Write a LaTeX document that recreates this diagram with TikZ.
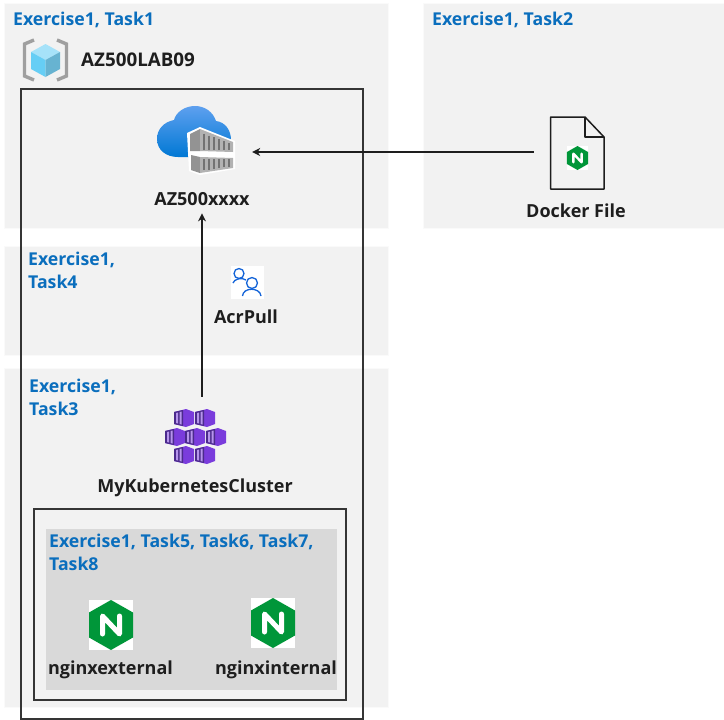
\documentclass[tikz,border=0pt]{standalone}
\usepackage{fontspec}
\setmainfont{Open Sans}
\usetikzlibrary{arrows.meta, positioning}
\definecolor{panelgray}{HTML}{F2F2F2}
\definecolor{innergray}{HTML}{D9D9D9}
\definecolor{taskblue}{HTML}{0A6EBD}
\definecolor{inkdark}{HTML}{1E1E1E}
\definecolor{nginxgreen}{HTML}{009639}
\definecolor{kubepurple}{HTML}{7A3CDC}
\definecolor{kubedark}{HTML}{4B2A8C}
\definecolor{usersblue}{HTML}{1464D8}
\definecolor{cloudtop}{HTML}{5EA0EF}
\definecolor{cloudlow}{HTML}{0078D4}
\tikzset{
  panel/.style={fill=panelgray,draw=white!60!panelgray,line width=1pt},
  framebox/.style={draw=inkdark!90,line width=1.3pt},
  flow/.style={draw=inkdark,line width=1.2pt,-{Stealth[length=8pt,width=8pt]}},
  tasklabel/.style={anchor=base west,inner sep=0pt,text=taskblue,align=left,font=\bfseries\fontsize{17.7}{23}\selectfont},
  itemlabel/.style={anchor=base,inner sep=0pt,text=inkdark,font=\bfseries\fontsize{18}{20}\selectfont},
  iconbox/.style={inner sep=0pt,minimum width=#1},
  whitebox/.style={fill=white,inner sep=0pt},
  kubecube/.pic={
    \fill[kubepurple] (-10,-6) -- (2,-9) -- (10,-6) -- (10,6) -- (2,9) -- (-10,6) -- cycle;
    \fill[kubedark] (-10,-6) -- (-1,-8) -- (-1,8) -- (-10,6) -- cycle;
    \fill[kubepurple!55!white] (-8,-5) -- (-6,-5.5) -- (-6,5.5) -- (-8,5) -- cycle;
    \fill[kubepurple!55!white] (-4.5,-6) -- (-2.5,-6.5) -- (-2.5,6.5) -- (-4.5,6) -- cycle;
  }
}
% hexagon with the N, #1 x, #2 y, #3 factor
\newcommand{\nginxmark}[3]{
  \begin{scope}[shift={(#1,#2)},scale=#3]
    \fill[nginxgreen] (0,-25) -- (22,-12.5) -- (22,12.5) -- (0,25) -- (-22,12.5) -- (-22,-12.5) -- cycle;
    \draw[white,line width=#3*5pt,line cap=round,line join=round] (-8.5,9) -- (-8.5,-9) -- (8.5,9) -- (8.5,-9);
  \end{scope}
}
\begin{document}
\begin{tikzpicture}[x=1pt,y=-1pt]
\useasboundingbox (0,0) rectangle (724,720);
% panels
\path[panel] (4,3) rectangle (388,228);
\path[panel] (423,3) rectangle (724,228);
\path[panel] (4,246) rectangle (388,355);
\path[panel] (4,368) rectangle (388,707);
\path[fill=innergray] (46,529) rectangle (337,690);
\path[framebox] (21,89) rectangle (363,719);
\path[framebox] (34,509) rectangle (346,700);
% task labels
\node[tasklabel] (taskone) at (13,25) {Exercise1, Task1};
\node[tasklabel] (tasktwo) at (432,25) {Exercise1, Task2};
\node[tasklabel,anchor=north west] (taskfour) at (28,252) {Exercise1,\\Task4};
\node[tasklabel,anchor=north west] (taskthree) at (29,379) {Exercise1,\\Task3};
\node[tasklabel,anchor=north west] (taskfive) at (49,534) {Exercise1, Task5, Task6, Task7,\\Task8};
% resource group
\node[iconbox=45pt,minimum height=43pt] (resgroup) at (45.5,60) {};
\draw[gray!75,line width=3.4pt] (34,40) -- (24.5,44) -- (24.5,76) -- (34,80);
\draw[gray!75,line width=3.4pt] (57,40) -- (66.5,44) -- (66.5,76) -- (57,80);
\fill[cyan!35!white] (45.5,44) -- (60,52) -- (45.5,60) -- (31,52) -- cycle;
\fill[cyan!60!white] (31,52) -- (45.5,60) -- (45.5,77) -- (31,69) -- cycle;
\fill[cyan!75!black!70!white] (60,52) -- (45.5,60) -- (45.5,77) -- (60,69) -- cycle;
\node[itemlabel,anchor=base west,font=\bfseries\fontsize{18.8}{20}\selectfont] (resgrouplabel) at (81,66) {AZ500LAB09};
% container registry
\node[iconbox=114pt,minimum height=60pt] (registry) at (195,145) {};
\shade[top color=cloudtop,bottom color=cloudlow] (178,157) .. controls (166,157) and (157,150) .. (157,139)
  .. controls (157,129) and (164,122) .. (174,120) .. controls (176,112) and (185,106) .. (195,106)
  .. controls (205,106) and (213,112) .. (216,121) .. controls (225,122) and (231,130) .. (231,140) -- (231,157) -- cycle;
\fill[white] (187,133) -- (200,127) -- (235,141) -- (235,169) -- (200,175) -- (189,171) -- cycle;
\fill[gray!85] (190,134) -- (200,129) -- (200,151) -- (190,151) -- cycle;
\fill[gray!60] (200,129) -- (233,142) -- (233,152) -- (200,151) -- cycle;
\fill[gray!85] (191,155) -- (200,157) -- (200,173) -- (191,170) -- cycle;
\fill[gray!60] (200,157) -- (233,158) -- (233,168) -- (200,173) -- cycle;
\foreach \sx in {204,209,214,219,224,229} {
  \draw[gray!90!black,line width=1.2pt] (\sx,{129+(\sx-200)*0.39+3}) -- (\sx,150);
  \draw[gray!90!black,line width=1.2pt] (\sx,159) -- (\sx,{173-(\sx-200)*0.15-2});
}
\node[itemlabel] (registrylabel) at (202,205) {AZ500xxxx};
% docker file
\node[iconbox=88pt,minimum height=72pt] (dockerfile) at (578,152) {};
\draw[inkdark,line width=1.5pt,line join=round] (550.5,117) -- (585,117) -- (604,137) -- (604,189) -- (550.5,189) -- cycle;
\draw[inkdark,line width=1.5pt,line join=round] (585,117) -- (585,137) -- (604,137);
\node[whitebox,minimum width=21pt,minimum height=24pt] (dockernginx) at (577.5,158) {};
\nginxmark{577.5}{158}{0.48}
\node[itemlabel] (dockerlabel) at (576,217) {Docker File};
% role
\node[whitebox,minimum width=33pt,minimum height=33pt] (acrpull) at (247.5,282.5) {};
\draw[usersblue,line width=1.3pt] (239,273.5) circle (5);
\draw[usersblue,line width=1.3pt] (252,283) circle (5.5);
\draw[usersblue,line width=1.3pt] (233,283) .. controls (234,279) and (242,277) .. (246,280);
\draw[usersblue,line width=1.3pt] (242.5,296) .. controls (243,287) and (260,287) .. (261,296);
\node[itemlabel] (acrpulllabel) at (246,323) {AcrPull};
% cluster
\node[iconbox=62pt,minimum height=76pt] (cluster) at (195,435) {};
\foreach \kx/\ky in {184/418,205/418,175/437,195/437,216/437,184/455,205/455} {
  \pic at (\kx,\ky) {kubecube};
}
\node[itemlabel] (clusterlabel) at (195,492) {MyKubernetesCluster};
% nginx
\node[whitebox,minimum width=44pt,minimum height=50pt] (nginxext) at (111,625) {};
\nginxmark{111}{625}{1}
\node[whitebox,minimum width=44pt,minimum height=50pt] (nginxint) at (273,623) {};
\nginxmark{273}{623}{1}
\node[itemlabel] (nginxextlabel) at (110.5,674) {nginxexternal};
\node[itemlabel] (nginxintlabel) at (276,674) {nginxinternal};
% connectors
\draw[flow] (dockerfile.west) -- (dockerfile.west -| registry.east);
\draw[flow,shorten >=8pt] (cluster.north -| registrylabel.south) -- (registrylabel.south);
\end{tikzpicture}
\end{document}
